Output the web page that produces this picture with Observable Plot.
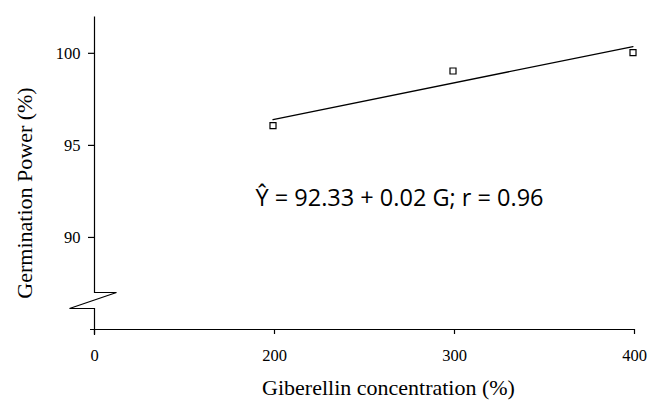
<!DOCTYPE html>
<html>
<head>
<meta charset="utf-8">
<script src="https://cdn.jsdelivr.net/npm/d3@7"></script>
<script src="https://cdn.jsdelivr.net/npm/@observablehq/plot@0.6"></script>
<style>
  html, body { margin: 0; padding: 0; background: white; }
</style>
</head>
<body>
<div id="chart"></div>
<script>
// Data
const concentration = [200, 300, 400];          // giberellin concentration
const germination = [96.07, 99.04, 100.04];     // germination power (%)
const xTicks = [0, 200, 300, 400];
const yTicks = [90, 95, 100];
const yDomain = [85, 102];
const axisBreak = [86.15, 87];                  // y values where the axis break sits
const xTitle = "Giberellin concentration (%)";
const yTitle = "Germination Power (%)";
const equation = "Ŷ = 92.33 + 0.02 G; r = 0.96";

const data = concentration.map((g, i) => ({g, p: germination[i]}));

const serif = "'Liberation Serif', 'Times New Roman', serif";

function breakMark(index, scales, values, dimensions) {
  const x0 = Math.round(scales.x(0)) + 0.5;
  const yTop = Math.round(scales.y(yDomain[1])) + 0.5;
  const yB1 = Math.round(scales.y(axisBreak[1])) + 0.5;
  const yB0 = Math.round(scales.y(axisBreak[0])) + 0.5;
  const yEnd = Math.round(scales.y(yDomain[0])) + 6;
  const p = d3.create("svg:path")
    .attr("d", `M${x0},${yTop}V${yB1}H${x0 + 22}L${x0 - 25},${yB0}H${x0}V${yEnd}`)
    .attr("fill", "none")
    .attr("stroke", "black")
    .attr("stroke-width", 1.2);
  return p.node();
}

const chart = Plot.plot({
  width: 648,
  height: 400,
  marginLeft: 94,
  marginRight: 14,
  marginTop: 16,
  marginBottom: 71,
  style: {fontFamily: serif, fontSize: "16.5px", color: "black", background: "white", overflow: "visible"},
  x: {type: "linear", domain: [0, 200, 400], range: [94, 274, 634]},
  y: {domain: yDomain},
  marks: [
    Plot.axisX({ticks: xTicks, tickSize: 5, tickPadding: 15, label: null, stroke: "black", strokeWidth: 1.2,
      fontFamily: serif, fontSize: 16.5, fontVariant: "normal"}),
    Plot.axisY({ticks: yTicks, tickSize: 6, tickPadding: 8, label: null, stroke: "black", strokeWidth: 1.2,
      fontFamily: serif, fontSize: 16.5, fontVariant: "normal"}),
    Plot.ruleY([yDomain[0]], {insetLeft: -4, stroke: "black", strokeWidth: 1.2}),
    breakMark,
    Plot.linearRegressionY(data, {x: "g", y: "p", ci: 0, stroke: "black", strokeWidth: 1.3, dx: -1.5}),
    Plot.dot(data, {x: "g", y: "p", symbol: "square", r: 3.4, stroke: "black", strokeWidth: 1.2, fill: "white", dx: -1.5}),
    Plot.text([equation], {frameAnchor: "top-left", textAnchor: "start", lineAnchor: "middle",
      dx: 161, dy: 181.5, fontFamily: "'Open Sans', sans-serif", fontSize: 23.5, fill: "black"}),
    Plot.text([xTitle], {frameAnchor: "bottom", textAnchor: "middle", lineAnchor: "middle",
      dx: 24, dy: 58, fontFamily: serif, fontSize: 22, fill: "black"}),
    Plot.text([yTitle], {frameAnchor: "left", textAnchor: "middle", lineAnchor: "middle", rotate: -90,
      dx: -70, dy: 20, fontFamily: serif, fontSize: 22, fill: "black"})
  ]
});
document.getElementById("chart").appendChild(chart);
</script>
</body>
</html>
